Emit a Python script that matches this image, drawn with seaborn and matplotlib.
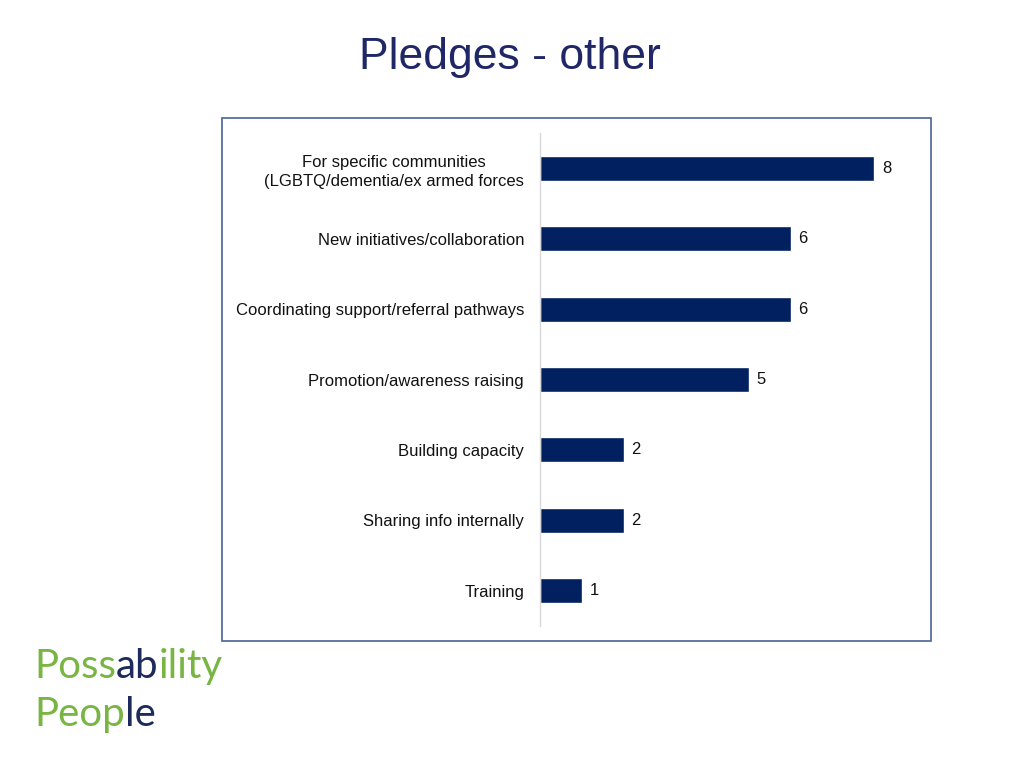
import matplotlib
matplotlib.use("Agg")
import matplotlib.pyplot as plt
import seaborn as sns
import pandas as pd
from matplotlib.patches import Rectangle
from matplotlib.offsetbox import TextArea, HPacker, VPacker, AnnotationBbox

# ── Data ──────────────────────────────────────────────────────────────────────
categories = [
    "For specific communities\n(LGBTQ/dementia/ex armed forces",
    "New initiatives/collaboration",
    "Coordinating support/referral pathways",
    "Promotion/awareness raising",
    "Building capacity",
    "Sharing info internally",
    "Training",
]
counts = [8, 6, 6, 5, 2, 2, 1]

BAR_COLOR   = "#002060"
TITLE_COLOR = "#1F2766"
GREEN       = "#78B543"
NAVY        = "#1C2A5C"

sns.set_theme(style="white")
plt.rcParams["font.family"] = ["Liberation Sans", "DejaVu Sans"]

df = pd.DataFrame({"category": categories, "count": counts})

fig = plt.figure(figsize=(10.24, 7.68), dpi=100)
fig.patch.set_facecolor("white")

# outer frame
fig.add_artist(Rectangle((222 / 1024, 1 - 641 / 768), 709 / 1024, 523 / 768,
                         transform=fig.transFigure, fill=False,
                         edgecolor="#4A6391", linewidth=1.2))

ax = fig.add_axes([540 / 1024, 1 - 626 / 768, 375.75 / 1024, 493 / 768])
sns.barplot(data=df, y="category", x="count", orient="h", color=BAR_COLOR,
            width=0.355, saturation=1, ax=ax)

ax.set_xlim(0, 9)
ax.set_ylim(6.5, -0.5)
ax.set_xlabel(""); ax.set_ylabel("")
ax.set_xticks([])
for s in ["top", "right", "bottom"]:
    ax.spines[s].set_visible(False)
ax.spines["left"].set_color("#D9D9D9")
ax.spines["left"].set_linewidth(1)
ax.tick_params(axis="y", length=0, pad=11.5, labelsize=12, labelcolor="#111111")
for lbl in ax.get_yticklabels():
    lbl.set_multialignment("center")
    lbl.set_linespacing(1.35)
    lbl.set_y(lbl.get_position()[1])

for i, v in enumerate(counts):
    ax.text(v + 0.19, i, str(v), va="center", ha="left", fontsize=12, color="#111111")

fig.text(0.498, 0.925, "Pledges - other", ha="center", va="center",
         fontsize=32, color=TITLE_COLOR)

# logo
lp = dict(fontsize=29, fontfamily="Lato", fontweight="normal")
line1 = HPacker(children=[TextArea("Poss", textprops=dict(color=GREEN, **lp)),
                          TextArea("ab", textprops=dict(color=NAVY, **lp)),
                          TextArea("ility", textprops=dict(color=GREEN, **lp))],
                pad=0, sep=0)
line2 = HPacker(children=[TextArea("Peop", textprops=dict(color=GREEN, **lp)),
                          TextArea("le", textprops=dict(color=NAVY, **lp))],
                pad=0, sep=0)
logo = VPacker(children=[line1, line2], pad=0, sep=8, align="left")
fig.add_artist(AnnotationBbox(logo, (34, 768 - 648), xycoords="figure pixels",
                              box_alignment=(0, 1), frameon=False))

fig.savefig("out.png", dpi=100, facecolor="white")
